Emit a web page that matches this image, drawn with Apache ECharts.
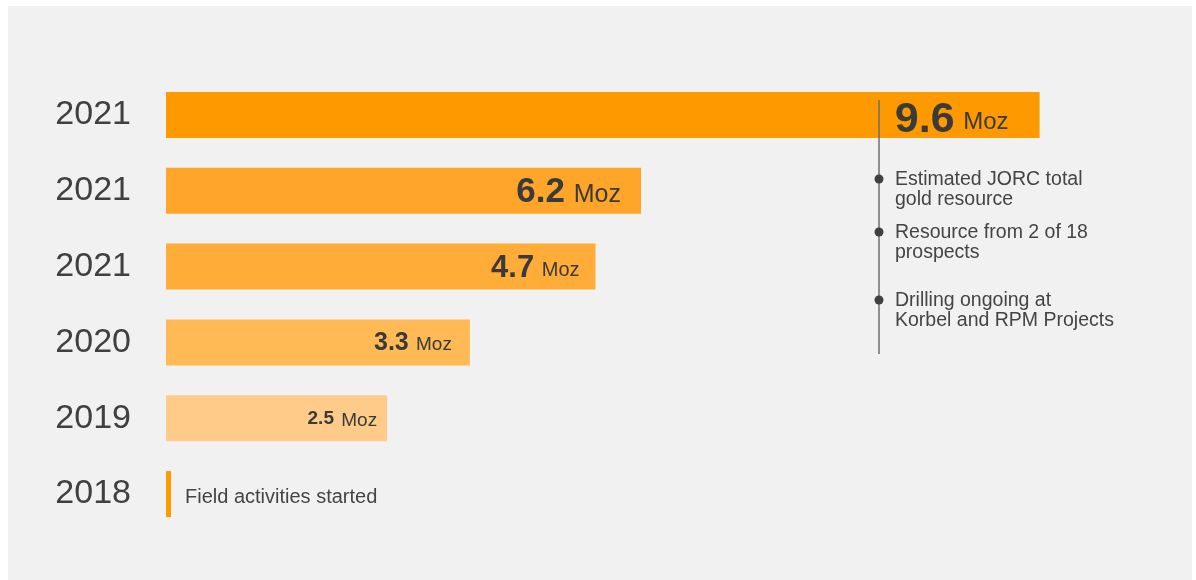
<!DOCTYPE html>
<html lang="en">
<head>
    <meta charset="UTF-8">
    <title>gold resource growth</title>
    <style>
        html, body { margin: 0; padding: 0; background: #fff; }
        #chart { width: 1196px; height: 580px; }
    </style>
</head>
<body>
    <div id="chart"></div>
</body>
<script src="https://cdn.jsdelivr.net/npm/echarts@6/dist/echarts.min.js"></script>
<script type="text/javascript">
    // rows, top to bottom
    var years = ['2021', '2021', '2021', '2020', '2019', '2018'];
    // bar lengths as drawn in the picture (Moz); 2018 is only a marker
    var barLengths = [9.6, 5.22, 4.72, 3.34, 2.43, 0.055];
    // the resource value printed on each bar
    var labelValues = ['9.6', '6.2', '4.7', '3.3', '2.5', null];
    var unit = 'Moz';
    var firstNote = 'Field activities started';
    var notes = ['Estimated JORC total\ngold resource', 'Resource from 2 of 18\nprospects', 'Drilling ongoing at\nKorbel and RPM Projects'];

    var FONT = '"Liberation Sans", Arial, sans-serif';
    var barColors = ['#ff9900', '#ffa52a', '#ffac39', '#ffba55', '#fecc88', '#ff9900'];
    // label look per row: number size, unit size, gap to bar end, vertical nudge
    var labelLook = [
        { num: 43, moz: 24, dist: 31, dy: 5 },
        { num: 35, moz: 25, dist: 20, dy: 2 },
        { num: 31, moz: 20, dist: 16, dy: 2 },
        { num: 25, moz: 19, dist: 18, dy: 1 },
        { num: 19, moz: 19, dist: 10, dy: 1 }
    ];

    function buildData() {
        var data = [];
        for (var i = 0; i < years.length; i++) {
            var item = { value: barLengths[i], itemStyle: { color: barColors[i] } };
            if (labelValues[i] != null) {
                var look = labelLook[i];
                item.label = {
                    show: true,
                    position: 'insideRight',
                    distance: look.dist,
                    offset: [0, look.dy],
                    formatter: '{n|' + labelValues[i] + '}{u| ' + unit + '}',
                    rich: {
                        n: { fontFamily: FONT, fontSize: look.num, fontWeight: 'bold', color: '#3a3a3a' },
                        u: { fontFamily: FONT, fontSize: look.moz, color: '#3a3a3a', padding: [look.num * 0.12, 0, 0, 2] }
                    }
                };
            } else {
                item.label = {
                    show: true,
                    position: 'right',
                    distance: 14,
                    offset: [0, 3],
                    formatter: firstNote,
                    fontFamily: FONT,
                    fontSize: 20,
                    color: '#444'
                };
            }
            data.push(item);
        }
        return data;
    }

    function buildNotes() {
        var dotY = [179, 232, 300];
        var els = [];
        els.push({
            type: 'line', z: 10, silent: true,
            shape: { x1: 879, y1: 100, x2: 879, y2: 354 },
            style: { stroke: '#6e6e6e', lineWidth: 1.5 }
        });
        for (var i = 0; i < notes.length; i++) {
            els.push({
                type: 'circle', z: 11, silent: true,
                shape: { cx: 879, cy: dotY[i], r: 4.5 },
                style: { fill: '#404040' }
            });
            els.push({
                type: 'text', z: 11, silent: true,
                x: 895, y: dotY[i] - 9,
                style: {
                    text: notes[i], fontFamily: FONT, fontSize: 19.5, lineHeight: 20,
                    fill: '#444', verticalAlign: 'top'
                }
            });
        }
        return els;
    }

    window.onload = function () {
        var chart = echarts.init(document.getElementById('chart'));
        var graphics = [{
            type: 'rect', z: -10, silent: true,
            shape: { x: 8, y: 6, width: 1184, height: 574 },
            style: { fill: '#f1f1f1' }
        }].concat(buildNotes());

        var option = {
            backgroundColor: '#ffffff',
            animation: false,
            graphic: graphics,
            grid: { left: 166, right: 120, top: 77, bottom: 48, containLabel: false },
            xAxis: {
                type: 'value', min: 0, max: 10, show: false
            },
            yAxis: {
                type: 'category',
                data: years,
                inverse: true,
                axisLine: { show: false },
                axisTick: { show: false },
                splitLine: { show: false },
                axisLabel: { fontFamily: FONT, fontSize: 34, color: '#404040', margin: 35 }
            },
            series: [{
                type: 'bar',
                barWidth: 46,
                data: buildData()
            }]
        };
        chart.setOption(option);
    };
</script>
</html>
